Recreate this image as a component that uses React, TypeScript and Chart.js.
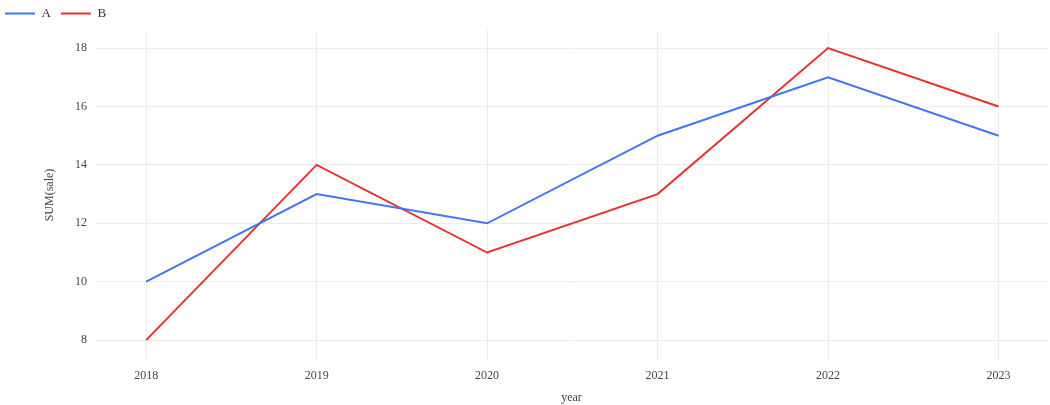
import React, { useEffect, useRef } from "react";
import { Chart, registerables } from "chart.js";

Chart.register(...registerables);

const years = [2018, 2019, 2020, 2021, 2022, 2023];
const seriesA = [10, 13, 12, 15, 17, 15];
const seriesB = [8, 14, 11, 13, 18, 16];
const yTicks = [8, 10, 12, 14, 16, 18];

const FONT = "'Liberation Serif', 'Times New Roman', serif";

export default function App() {
  const ref = useRef<HTMLCanvasElement | null>(null);
  useEffect(() => {
    if (!ref.current) return;
    const chart = new Chart(ref.current, {
      type: "line",
      data: {
        datasets: [
          {
            label: "A",
            data: years.map((y, i) => ({ x: y, y: seriesA[i] })),
            borderColor: "#4374f5",
            backgroundColor: "#4374f5",
            borderWidth: 2,
            pointRadius: 0,
            tension: 0,
          },
          {
            label: "B",
            data: years.map((y, i) => ({ x: y, y: seriesB[i] })),
            borderColor: "#e8302f",
            backgroundColor: "#e8302f",
            borderWidth: 2,
            pointRadius: 0,
            tension: 0,
          },
        ],
      },
      options: {
        responsive: false,
        animation: false,
        layout: { padding: { left: -5, top: -3, right: 2, bottom: 0 } },
        plugins: {
          legend: {
            position: "top",
            align: "start",
            labels: {
              boxWidth: 30,
              boxHeight: 2,
              padding: 10,
              color: "#333",
              font: { family: FONT, size: 13 },
              generateLabels: (c: any) =>
                Chart.defaults.plugins.legend.labels.generateLabels(c).map((l: any) => ({
                  ...l,
                  lineWidth: 0,
                })),
            },
          },
          tooltip: { enabled: false },
        },
        scales: {
          x: {
            type: "linear",
            min: 2017.7,
            max: 2023.29,
            afterBuildTicks: (scale: any) => {
              scale.ticks = years.map((v) => ({ value: v }));
            },
            afterFit: (scale: any) => {
              scale.height = 45;
            },
            ticks: {
              callback: (v: any) => String(v),
              color: "#444",
              font: { family: FONT, size: 12 },
              padding: 9,
              maxRotation: 0,
            },
            grid: { color: "#ececec", drawTicks: false },
            border: { display: false },
            title: {
              display: true,
              text: "year",
              color: "#444",
              font: { family: FONT, size: 12 },
              padding: { top: 0, bottom: 0 },
            },
          },
          y: {
            min: 7.32,
            max: 18.62,
            afterBuildTicks: (scale: any) => {
              scale.ticks = yTicks.map((v) => ({ value: v }));
            },
            afterFit: (scale: any) => {
              scale.width = 100;
            },
            ticks: {
              color: "#444",
              font: { family: FONT, size: 12 },
              padding: 8,
            },
            grid: { color: "#ececec", drawTicks: false },
            border: { display: false },
            title: {
              display: true,
              text: "SUM(sale)",
              color: "#444",
              font: { family: FONT, size: 12 },
              padding: { top: 48, bottom: 0 },
            },
          },
        },
      },
    });
    return () => chart.destroy();
  }, []);
  return (
    <div style={{ position: "fixed", left: 0, top: 0, width: 1050, height: 405, background: "#fff" }}>
      <canvas ref={ref} width={1050} height={405} style={{ display: "block" }} />
    </div>
  );
}
